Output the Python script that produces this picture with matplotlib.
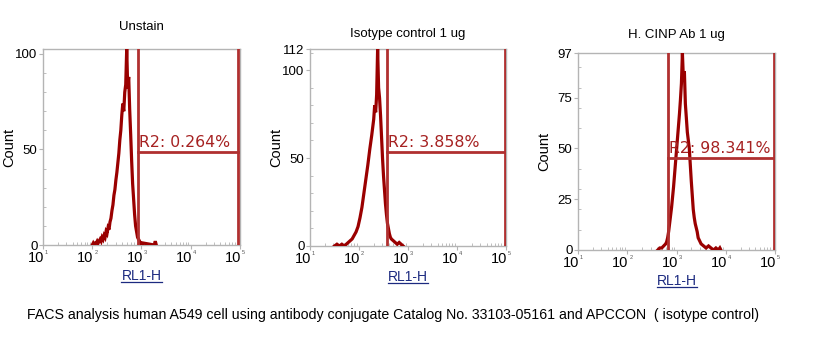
import matplotlib

matplotlib.use("Agg")
import matplotlib.pyplot as plt
import numpy as np
from matplotlib.lines import Line2D
from matplotlib.ticker import FixedLocator, MultipleLocator, NullFormatter

# ---------------------------------------------------------------------------
# Data (x in log10 RL1-H units, y = count)
# ---------------------------------------------------------------------------
TITLES = ["Unstain", "Isotype control 1 ug", "H. CINP Ab 1 ug"]

LOG1 = [2.00, 2.02, 2.04, 2.06, 2.08, 2.10, 2.12, 2.14, 2.16, 2.18, 2.20, 2.22,
        2.24, 2.26, 2.28, 2.30, 2.32, 2.34, 2.36, 2.38, 2.40, 2.42, 2.44, 2.46,
        2.48, 2.50, 2.52, 2.54, 2.56, 2.58, 2.60, 2.62, 2.64, 2.66, 2.68, 2.70,
        2.72, 2.74, 2.76, 2.78, 2.80, 2.82, 2.84, 2.86, 2.88, 2.90, 2.92, 2.94,
        2.96, 2.98, 3.00, 3.02, 3.04, 3.26, 3.28, 3.30]
CNT1 = [0, 1, 0, 1, 1, 2, 1, 2, 3, 2, 4, 3,
        5, 4, 7, 6, 9, 8, 12, 14, 18, 21, 26, 29,
        34, 38, 43, 48, 55, 60, 68, 74, 70, 80, 84, 103,
        82, 88, 71, 58, 44, 32, 24, 16, 10, 7, 4, 3,
        2, 1, 1, 0, 1, 0, 2, 0]

LOG2 = [1.50, 1.55, 1.60, 1.65, 1.70, 1.74, 1.78, 1.82, 1.86, 1.90, 1.94, 1.98,
        2.02, 2.06, 2.10, 2.14, 2.18, 2.22, 2.26, 2.30, 2.32, 2.34, 2.36, 2.38,
        2.40, 2.42, 2.44, 2.46, 2.48, 2.50, 2.52, 2.54, 2.56, 2.58, 2.60, 2.62,
        2.64, 2.66, 2.70, 2.74, 2.78, 2.82, 2.86, 2.90]
CNT2 = [0, 1, 0, 1, 0, 1, 2, 3, 4, 6, 8, 11,
        16, 22, 30, 38, 46, 55, 63, 72, 80, 76, 86, 112,
        90, 84, 74, 62, 50, 40, 32, 24, 18, 13, 10, 7,
        5, 4, 3, 2, 1, 2, 1, 0]

LOG3 = [2.62, 2.66, 2.70, 2.74, 2.78, 2.80, 2.82, 2.84, 2.86, 2.88, 2.90, 2.92,
        2.94, 2.96, 2.98, 3.00, 3.02, 3.04, 3.06, 3.08, 3.10, 3.12, 3.14, 3.16,
        3.18, 3.20, 3.22, 3.24, 3.26, 3.28, 3.30, 3.32, 3.34, 3.36, 3.38, 3.40,
        3.42, 3.44, 3.46, 3.48, 3.50, 3.55, 3.60, 3.65, 3.70, 3.75, 3.80, 3.85,
        3.88, 3.90]
CNT3 = [0, 1, 1, 2, 3, 4, 6, 9, 13, 17, 21, 26,
        31, 37, 43, 49, 55, 61, 67, 74, 82, 97, 84, 88,
        72, 65, 58, 54, 50, 42, 34, 27, 20, 16, 13, 11,
        9, 6, 5, 4, 3, 2, 1, 2, 1, 0, 1, 0,
        1, 0]

YMAX = [102.6, 112, 97]
YTICKS = [[0, 50, 100], [0, 50, 100, 112], [0, 25, 50, 75, 97]]
DECADES = [1, 2, 3, 4, 5]

# R2 gate: low / high edge (log10) and the count level of the bar
GATE_LO = [2.93, 2.57, 2.83]
GATE_HI = [4.96, 4.98, 4.98]
GATE_Y = [48.5, 53.5, 45.3]
GATE_TXT = ["R2: 0.264%", "R2: 3.858%", "R2: 98.341%"]

CAPTION = ("FACS analysis human A549 cell using antibody conjugate Catalog No. "
           "33103-05161 and APCCON  ( isotype control)")

HIST_C = "#9a0000"
GATE_C = "#b03030"
TXT_C = "#a62222"
LBL_C = "#1c2a80"
SPINE_C = "#b4b4b4"
SANS = ["Liberation Sans", "DejaVu Sans"]

W, H = 823, 356
fig = plt.figure(figsize=(W / 100, H / 100), dpi=100)
fig.patch.set_facecolor("white")

# axes boxes in pixels: left, top, width, height
boxes = [(43, 49, 197, 196), (310, 49, 196, 197), (578, 53, 197, 197)]
title_pad = [13.5, 8.5, 10.5]
axes = [fig.add_axes([x0 / W, 1 - (y0 + h) / H, w / W, h / H])
        for (x0, y0, w, h) in boxes]

series = [(LOG1, CNT1), (LOG2, CNT2), (LOG3, CNT3)]
xlabels = []
for i, ax in enumerate(axes):
    logs, cnts = series[i]
    ax.plot(10 ** np.array(logs), cnts, color=HIST_C, lw=2.3, zorder=3,
            solid_joinstyle="miter")

    lo, hi = 10 ** GATE_LO[i], 10 ** GATE_HI[i]
    ax.plot([lo, lo], [0, YMAX[i]], color=GATE_C, lw=2.0, zorder=4)
    ax.plot([hi, hi], [0, YMAX[i]], color=GATE_C, lw=2.0, zorder=4)
    ax.plot([lo, hi], [GATE_Y[i], GATE_Y[i]], color=GATE_C, lw=2.0, zorder=4)
    ax.text(lo * 1.03, GATE_Y[i] + 1.0, GATE_TXT[i], color=TXT_C,
            fontsize=11.3, family="DejaVu Sans", ha="left", va="bottom", zorder=5)

    ax.set_xscale("log")
    ax.set_xlim(10, 1e5)
    ax.set_ylim(0, YMAX[i])
    for s in ax.spines.values():
        s.set_color(SPINE_C)
        s.set_linewidth(1.0)

    # decade ticks: "10" sits left of the tick, tiny exponent just right of it
    ax.xaxis.set_major_locator(FixedLocator([10.0 ** e for e in DECADES]))
    ax.xaxis.set_major_formatter(NullFormatter())
    ax.xaxis.set_minor_locator(FixedLocator(
        [m * 10 ** e for e in DECADES[:-1] for m in range(2, 10)]))
    ax.xaxis.set_minor_formatter(NullFormatter())
    ax.tick_params(axis="x", which="major", direction="out", length=3,
                   color=SPINE_C)
    ax.tick_params(axis="x", which="minor", direction="in", length=2.5,
                   color=SPINE_C)
    for e in DECADES:
        ax.annotate("10", xy=(10 ** e, 0), xycoords=("data", "axes fraction"),
                    xytext=(1, -4.5), textcoords="offset points", fontsize=10.5,
                    ha="right", va="top", family=SANS)
        ax.annotate(str(e), xy=(10 ** e, 0), xycoords=("data", "axes fraction"),
                    xytext=(1.5, -3.3), textcoords="offset points", fontsize=4,
                    color="#555555", ha="left", va="top", family=SANS)

    ax.set_yticks(YTICKS[i])
    ax.yaxis.set_minor_locator(MultipleLocator(10))
    ax.tick_params(axis="y", which="major", direction="out", length=3,
                   color=SPINE_C, labelsize=9.5, pad=1)
    ax.tick_params(axis="y", which="minor", direction="in", length=2,
                   color=SPINE_C)
    for lab in ax.get_yticklabels():
        lab.set_family(SANS)

    ax.set_title(TITLES[i], fontsize=9.5, family=SANS, pad=title_pad[i])
    ax.set_ylabel("Count", fontsize=10.5, family=SANS)
    ax.yaxis.set_label_coords(-27 / boxes[i][2], 0.5)
    xl = ax.set_xlabel("RL1-H", fontsize=10, family=SANS, color=LBL_C,
                       labelpad=10.5)
    xlabels.append(xl)

fig.text(27 / W, 1 - 315 / H, CAPTION, fontsize=10.2, family=SANS,
         ha="left", va="center")

# underline the axis labels
fig.canvas.draw()
for xl in xlabels:
    bb = xl.get_window_extent()
    yy = (bb.y0 + 1) / H
    fig.add_artist(Line2D([bb.x0 / W, bb.x1 / W], [yy, yy], color=LBL_C,
                          lw=0.9, transform=fig.transFigure))

fig.savefig("out.png", dpi=100)
